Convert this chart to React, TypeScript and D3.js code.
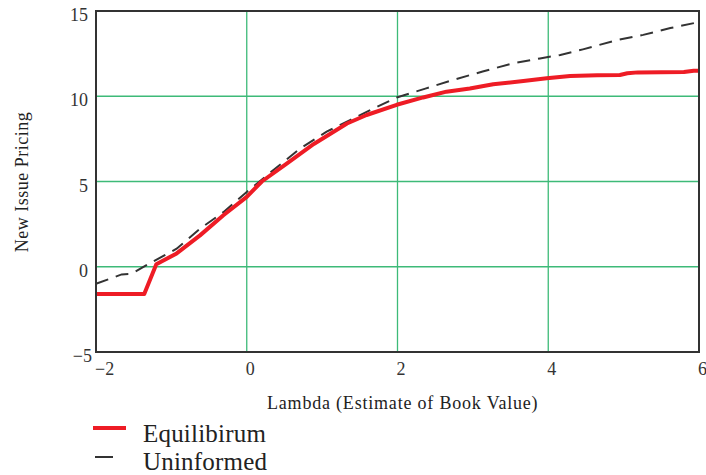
import React from "react";
import * as d3 from "d3";

const xTicks = [-2, 0, 2, 4, 6];
const yTicks = [-5, 0, 5, 10, 15];
const xLabel = "Lambda (Estimate of Book Value)";
const yLabel = "New Issue Pricing";
const seriesNames = ["Equilibirum", "Uninformed"];

const equilibriumX = [-2, -1.36, -1.2, -0.93, -0.62, -0.31, 0, 0.2, 0.53, 0.89, 1.33, 1.59, 1.99, 2.34, 2.65, 2.96, 3.27, 3.67, 3.98, 4.29, 4.65, 4.95, 5.05, 5.19, 5.8, 5.93, 6];
const equilibriumY = [-1.6, -1.6, 0.15, 0.78, 1.84, 3.02, 4.1, 5.0, 6.05, 7.2, 8.4, 8.9, 9.5, 9.93, 10.27, 10.46, 10.7, 10.9, 11.05, 11.19, 11.23, 11.25, 11.35, 11.4, 11.42, 11.5, 11.5];

const uninformedX = [-2, -1.66, -1.53, -1.28, -0.93, -0.62, -0.31, 0, 0.35, 0.71, 1.06, 1.37, 1.68, 1.99, 2.38, 2.74, 3.13, 3.53, 3.89, 4.16, 4.46, 4.92, 5.26, 5.62, 6];
const uninformedY = [-1.0, -0.45, -0.42, 0.22, 1.06, 2.23, 3.2, 4.39, 5.66, 6.94, 7.92, 8.6, 9.28, 9.93, 10.46, 10.96, 11.45, 11.93, 12.22, 12.42, 12.75, 13.3, 13.6, 14.0, 14.35];

const W = 706;
const H = 475;
const left = 96, right = 699, top = 11, bottom = 352;

export default function App() {
  const x = d3.scaleLinear().domain([-2, 6]).range([left, right]);
  const y = d3.scaleLinear().domain([-5, 15]).range([bottom, top]);
  const line = d3.line<[number, number]>().x(d => x(d[0])).y(d => y(d[1]));
  const eq: [number, number][] = equilibriumX.map((v, i) => [v, equilibriumY[i]]);
  const un: [number, number][] = uninformedX.map((v, i) => [v, uninformedY[i]]);
  const serif = "'Liberation Serif', 'Times New Roman', serif";
  const grid = "#3dba78";

  return (
    <svg width={W} height={H} style={{ position: "absolute", left: 0, top: 0 }} fontFamily={serif}>
      <rect x={0} y={0} width={W} height={H} fill="#fff" />
      {xTicks.filter(t => t > -2 && t < 6).map(t => (
        <line key={"gx" + t} x1={x(t)} x2={x(t)} y1={top} y2={bottom} stroke={grid} strokeWidth={1.3} />
      ))}
      {yTicks.filter(t => t > -5 && t < 15).map(t => (
        <line key={"gy" + t} x1={left} x2={right} y1={y(t)} y2={y(t)} stroke={grid} strokeWidth={1.3} />
      ))}
      <path d={line(un) || ""} fill="none" stroke="#333" strokeWidth={2} strokeDasharray="13 8" />
      <path d={line(eq) || ""} fill="none" stroke="#ee1c25" strokeWidth={4} strokeLinejoin="round" />
      <rect x={left} y={top} width={right - left} height={bottom - top} fill="none" stroke="#333" strokeWidth={2} />
      {yTicks.map(t => (
        <text key={"yt" + t} x={t === -5 ? 92 : 88} y={y(t) + 10} textAnchor="end" fontSize={18} fill="#333">
          {t < 0 ? "\u2212" + Math.abs(t) : t}
        </text>
      ))}
      {xTicks.map(t => (
        <text key={"xt" + t} x={x(t) - 1} y={375} textAnchor="start" fontSize={18} fill="#333">
          {t < 0 ? "\u2212" + Math.abs(t) : t}
        </text>
      ))}
      <text x={267} y={409} fontSize={18} letterSpacing={0.8} fill="#222">{xLabel}</text>
      <text transform="translate(28,182) rotate(-90)" textAnchor="middle" fontSize={18} letterSpacing={0.5} fill="#222">{yLabel}</text>
      <line x1={93} x2={126} y1={428} y2={428} stroke="#ee1c25" strokeWidth={4} />
      <text x={143} y={442} fontSize={25} letterSpacing={0.2} fill="#222">{seriesNames[0]}</text>
      <line x1={95} x2={113} y1={457} y2={457} stroke="#333" strokeWidth={2} />
      <text x={143} y={470} fontSize={25} letterSpacing={0.2} fill="#222">{seriesNames[1]}</text>
    </svg>
  );
}
